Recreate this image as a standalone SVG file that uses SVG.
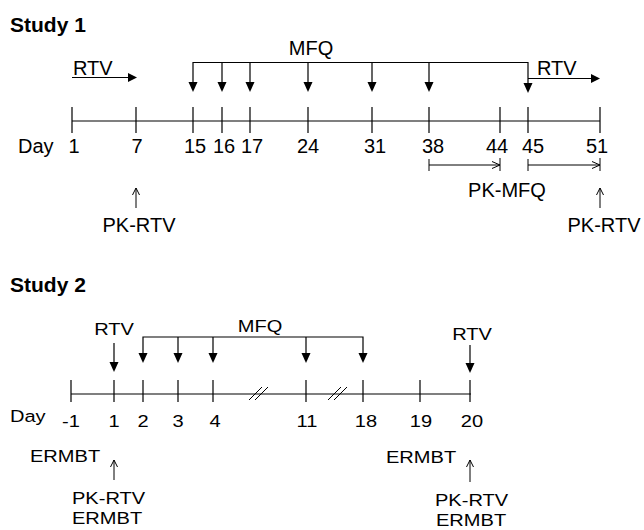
<svg xmlns="http://www.w3.org/2000/svg" width="644" height="530" viewBox="0 0 644 530">
<style>
text{font-family:"Liberation Sans",Arial,sans-serif;font-size:20px;fill:#000}
.t{font-weight:bold;font-size:21px}
.s{font-size:17px}
.m{text-anchor:middle}
.l{stroke:#000;stroke-width:1.2;fill:none}
.h{fill:#000;stroke:none}
.o{stroke:#000;stroke-width:1;fill:none}
</style>
<rect width="644" height="530" fill="#fff"/>
<g id="study1">
<text class="t" x="10" y="32">Study 1</text>
<g id="s1-axis">
<line class="l" x1="72" y1="121" x2="600" y2="121"/>
<path class="l" d="M72 107V133M136 107V133M193 107V133M222 107V133M250 107V133M308 107V133M372 107V133M429 107V133M500 107V133M528 107V133M600 107V133"/>
<text x="18" y="153">Day</text>
<text class="m" x="74" y="153">1</text>
<text class="m" x="137" y="153">7</text>
<text class="m" x="195" y="153">15</text>
<text class="m" x="224" y="153">16</text>
<text class="m" x="252" y="153">17</text>
<text class="m" x="308" y="153">24</text>
<text class="m" x="375" y="153">31</text>
<text class="m" x="433" y="153">38</text>
<text class="m" x="497" y="153">44</text>
<text class="m" x="533" y="153">45</text>
<text class="m" x="597" y="153">51</text>
</g>
<g id="s1-rtv1">
<text x="73" y="75">RTV</text>
<line class="l" x1="72" y1="77.5" x2="129" y2="77.5"/>
<polygon class="h" points="137,77.5 128,73 128,82"/>
</g>
<g id="s1-mfq">
<text class="m" x="311" y="55">MFQ</text>
<path class="l" d="M193 82V62.5H528V84M222 62.5V82M250 62.5V82M308 62.5V82M372 62.5V82M429 62.5V82"/>
<polygon class="h" points="193,92 188.5,82 197.5,82"/>
<polygon class="h" points="222,92 217.5,82 226.5,82"/>
<polygon class="h" points="250,92 245.5,82 254.5,82"/>
<polygon class="h" points="308,92 303.5,82 312.5,82"/>
<polygon class="h" points="372,92 367.5,82 376.5,82"/>
<polygon class="h" points="429,92 424.5,82 433.5,82"/>
<polygon class="h" points="528,93 523.5,83 532.5,83"/>
</g>
<g id="s1-rtv2">
<text x="537" y="75">RTV</text>
<line class="l" x1="528" y1="78.5" x2="591" y2="78.5"/>
<polygon class="h" points="600,78.5 591,74 591,83"/>
</g>
<g id="s1-pkmfq">
<path class="o" d="M429 159V171M429 165H500M500 158V171M492 161.5L500 165L492 168.5"/>
<path class="o" d="M528 159V171M528 165H600M600 158V171M592 161.5L600 165L592 168.5"/>
<text class="m" x="507" y="197">PK-MFQ</text>
</g>
<g id="s1-pkrtv1">
<path class="o" d="M136 208V188M132.5 195L136 188L139.5 195"/>
<text class="m" x="139" y="232">PK-RTV</text>
</g>
<g id="s1-pkrtv2">
<path class="o" d="M600 208V188M596.5 195L600 188L603.5 195"/>
<text class="m" x="604" y="232">PK-RTV</text>
</g>
</g>
<g id="study2">
<text class="t" x="10" y="292">Study 2</text>
<g id="s2-axis">
<line class="l" x1="71" y1="394" x2="471" y2="394"/>
<path class="l" d="M71 380V402M114 380V402M143 380V402M178 380V402M213 380V402M306 380V402M363 380V402M420 380V402M470 380V402"/>
<path class="o" d="M249 400L262 387M255 400L268 387M328 400L341 387M334 400L347 387"/>
<text class="s" transform="translate(10 422) scale(1.18 1)">Day</text>
<text class="s m" transform="translate(71 427) scale(1.18 1)">-1</text>
<text class="s m" transform="translate(114 427) scale(1.18 1)">1</text>
<text class="s m" transform="translate(143 427) scale(1.18 1)">2</text>
<text class="s m" transform="translate(178 427) scale(1.18 1)">3</text>
<text class="s m" transform="translate(215 427) scale(1.18 1)">4</text>
<text class="s m" transform="translate(307 427) scale(1.18 1)">11</text>
<text class="s m" transform="translate(366 427) scale(1.18 1)">18</text>
<text class="s m" transform="translate(421 427) scale(1.18 1)">19</text>
<text class="s m" transform="translate(472 427) scale(1.18 1)">20</text>
</g>
<g id="s2-rtv1">
<text class="s m" transform="translate(114 335) scale(1.18 1)">RTV</text>
<line class="l" x1="114" y1="343" x2="114" y2="363"/>
<polygon class="h" points="114,372 109.5,362 118.5,362"/>
</g>
<g id="s2-mfq">
<text class="s m" transform="translate(260 332) scale(1.18 1)">MFQ</text>
<path class="l" d="M143 354V337H363V354M178 337V354M213 337V354M306 337V354"/>
<polygon class="h" points="143,363 138.5,353 147.5,353"/>
<polygon class="h" points="178,363 173.5,353 182.5,353"/>
<polygon class="h" points="213,363 208.5,353 217.5,353"/>
<polygon class="h" points="306,363 301.5,353 310.5,353"/>
<polygon class="h" points="363,363 358.5,353 367.5,353"/>
</g>
<g id="s2-rtv2">
<text class="s m" transform="translate(472 340) scale(1.18 1)">RTV</text>
<line class="l" x1="470" y1="345" x2="470" y2="364"/>
<polygon class="h" points="470,373 465.5,363 474.5,363"/>
</g>
<g id="s2-pk1">
<text class="s" transform="translate(30 462) scale(1.18 1)">ERMBT</text>
<path class="o" d="M114 480V460M110.5 467L114 460L117.5 467"/>
<text class="s" transform="translate(72 504) scale(1.18 1)">PK-RTV</text>
<text class="s" transform="translate(72 524) scale(1.18 1)">ERMBT</text>
</g>
<g id="s2-pk2">
<text class="s" transform="translate(386 463) scale(1.18 1)">ERMBT</text>
<path class="o" d="M470 482V460M466.5 467L470 460L473.5 467"/>
<text class="s" transform="translate(435 506) scale(1.18 1)">PK-RTV</text>
<text class="s" transform="translate(436 526) scale(1.18 1)">ERMBT</text>
</g>
</g>
</svg>
